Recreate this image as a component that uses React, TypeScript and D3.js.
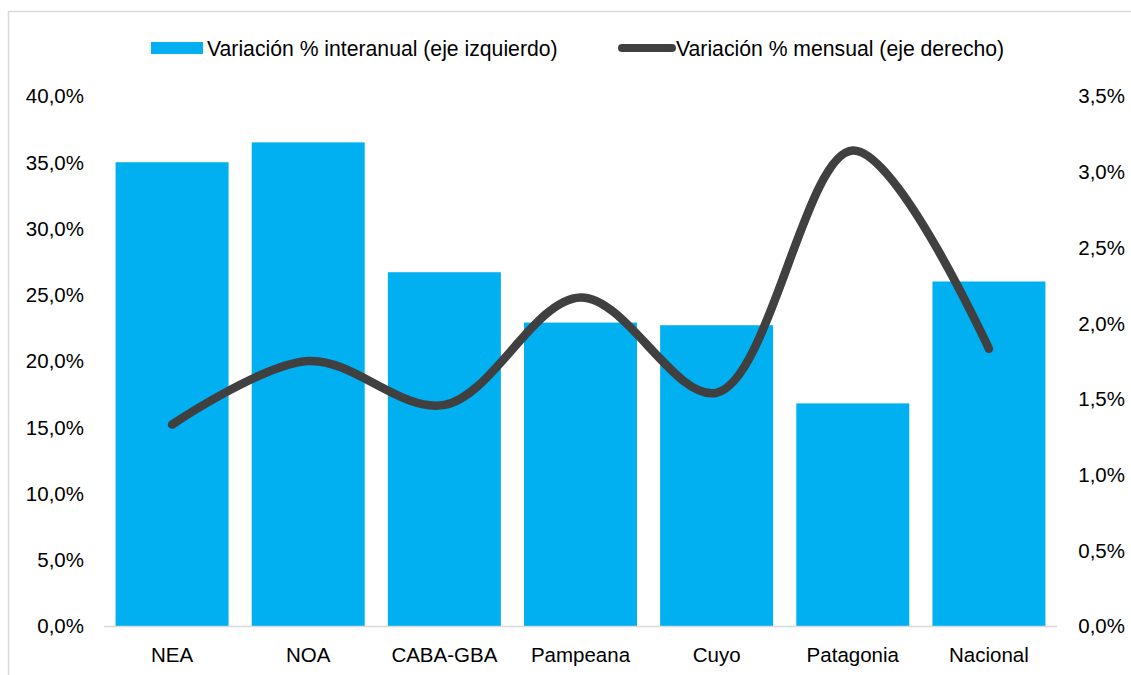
import * as d3 from 'd3'

const categories = ['NEA', 'NOA', 'CABA-GBA', 'Pampeana', 'Cuyo', 'Patagonia', 'Nacional']
const interanual = [35.0, 36.5, 26.7, 22.9, 22.7, 16.8, 26.0]
const mensual = [1.33, 1.75, 1.46, 2.17, 1.54, 3.14, 1.83]
const leftTicks = [0, 5, 10, 15, 20, 25, 30, 35, 40]
const rightTicks = [0, 0.5, 1, 1.5, 2, 2.5, 3, 3.5]

const W = 1131
const H = 675
const FONT = '"Liberation Sans", Arial, sans-serif'
const FS = 20.5
const FS_LEGEND = 21.2
const BAR = '#00b0f0'
const LINE = '#404040'

const fmt = (d: number) => d.toFixed(1).replace('.', ',') + '%'

export default function App() {
  const x = d3.scaleBand(categories, [104, 1057]).paddingInner(0.17).paddingOuter(0.085)
  const yL = d3.scaleLinear([0, 40], [626, 96])
  const yR = d3.scaleLinear([0, 3.5], [626, 96])

  const line = d3
    .line<number>()
    .x((_, i) => (x(categories[i]) ?? 0) + x.bandwidth() / 2)
    .y((d) => yR(d))
    .curve(d3.curveCatmullRom.alpha(0.5))

  return (
    <div style={{ position: 'fixed', left: 0, top: 0 }}>
      <svg width={W} height={H} style={{ display: 'block', fontFamily: FONT }}>
        <rect x={0} y={0} width={W} height={H} fill="#fff" />
        <rect x={8.5} y={11.5} width={W + 10} height={H + 10} fill="none" stroke="#d9d9d9" strokeWidth={1.5} />

        {/* legend */}
        <rect x={151} y={42} width={52} height={12} fill={BAR} />
        <text x={207} y={55.5} fontSize={FS_LEGEND} fill="#000">
          Variación % interanual (eje izquierdo)
        </text>
        <line x1={622} x2={672} y1={48} y2={48} stroke={LINE} strokeWidth={8} strokeLinecap="round" />
        <text x={676} y={55.5} fontSize={FS_LEGEND} fill="#000">
          Variación % mensual (eje derecho)
        </text>

        {/* bars */}
        {interanual.map((v, i) => (
          <rect
            key={categories[i]}
            x={x(categories[i])}
            y={yL(v)}
            width={x.bandwidth()}
            height={yL(0) - yL(v)}
            fill={BAR}
          />
        ))}

        {/* baseline */}
        <line x1={104} x2={1057} y1={626.5} y2={626.5} stroke="#d9d9d9" strokeWidth={1.5} />

        {/* left axis */}
        {leftTicks.map((t) => (
          <text key={t} x={84} y={yL(t)} dy="0.36em" textAnchor="end" fontSize={FS} fill="#000">
            {fmt(t)}
          </text>
        ))}

        {/* right axis */}
        {rightTicks.map((t) => (
          <text key={t} x={1125} y={yR(t)} dy="0.36em" textAnchor="end" fontSize={FS} fill="#000">
            {fmt(t)}
          </text>
        ))}

        {/* category labels */}
        {categories.map((c) => (
          <text
            key={c}
            x={(x(c) ?? 0) + x.bandwidth() / 2}
            y={662}
            textAnchor="middle"
            fontSize={FS}
            fill="#000"
          >
            {c}
          </text>
        ))}

        {/* line */}
        <path d={line(mensual) ?? ''} fill="none" stroke={LINE} strokeWidth={8.5} strokeLinecap="round" strokeLinejoin="round" />
      </svg>
    </div>
  )
}
